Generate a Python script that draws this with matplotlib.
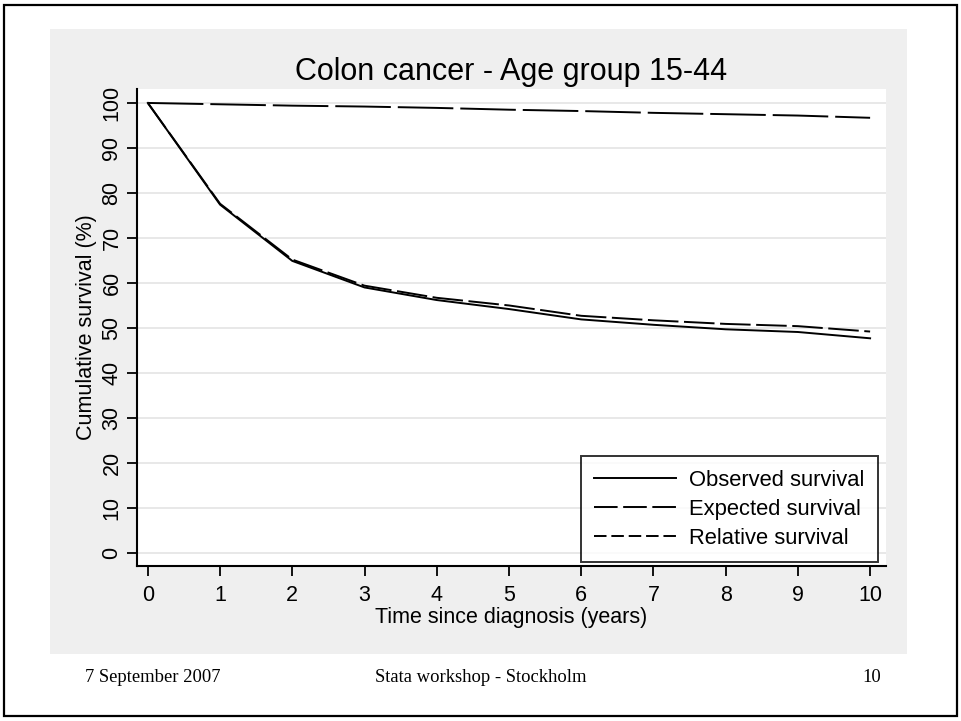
import matplotlib
matplotlib.use("Agg")
import matplotlib.pyplot as plt
from matplotlib.lines import Line2D
from matplotlib.patches import Rectangle

# survival curves (%)
years = [0, 1, 2, 3, 4, 5, 6, 7, 8, 9, 10]
observed = [100, 77.4, 64.9, 59.0, 56.2, 54.2, 51.9, 50.7, 49.7, 49.1, 47.7]
expected = [100, 99.7, 99.4, 99.2, 98.9, 98.5, 98.2, 97.8, 97.5, 97.2, 96.7]
relative = [100, 77.6, 65.2, 59.4, 56.7, 55.0, 52.7, 51.7, 50.9, 50.4, 49.2]

labels = ["Observed survival", "Expected survival", "Relative survival"]
yticks = list(range(0, 101, 10))
xticks = list(range(0, 11))

plt.rcParams['font.family'] = ['Liberation Sans', 'DejaVu Sans']
plt.rcParams['lines.scale_dashes'] = False

W, H = 961, 721
fig = plt.figure(figsize=(W / 100, H / 100), dpi=100)

# slide frame and grey graph region
fig.add_artist(Rectangle((4 / W, 5 / H), 953 / W, 711 / H, transform=fig.transFigure,
                         fill=False, ec='black', lw=1.6, zorder=-2))
fig.add_artist(Rectangle((50 / W, 1 - 654 / H), 857 / W, 625 / H, transform=fig.transFigure,
                         fc='#efefef', ec='none', zorder=-1))

ax = fig.add_axes([137 / W, 1 - 566 / H, 749 / W, 477 / H])
ax.set_facecolor('white')

lw = 1.4
ax.plot(years, observed, color='black', lw=lw, solid_joinstyle='round')
ax.plot(years, expected, color='black', lw=lw, dashes=(40, 5))
ax.plot(years, relative, color='black', lw=lw, dashes=(22, 4))

ax.set_xlim(-0.15, 10.22)
ax.set_ylim(-2.9, 103.1)
ax.set_yticks(yticks)
ax.set_xticks(xticks)
ax.set_yticklabels([str(v) for v in yticks], rotation=90, va='center')
ax.grid(axis='y', color='#e6e6e6', lw=1.3)
ax.set_axisbelow(True)

for s in ['top', 'right']:
    ax.spines[s].set_visible(False)
for s in ['left', 'bottom']:
    ax.spines[s].set_linewidth(1.5)
ax.tick_params(axis='both', direction='out', length=7.5, width=1.3, labelsize=15.5)
ax.tick_params(axis='x', pad=6)
ax.tick_params(axis='y', pad=3)

ax.set_ylabel("Cumulative survival (%)", fontsize=15.5, labelpad=3)
ax.set_xlabel("Time since diagnosis (years)", fontsize=15.5, labelpad=1)

fig.text(511 / W, 1 - 72 / H, "Colon cancer - Age group 15-44", fontsize=22,
         ha='center', va='center')

handles = [Line2D([], [], color='black', lw=lw),
           Line2D([], [], color='black', lw=lw, dashes=(17, 4)),
           Line2D([], [], color='black', lw=lw, dashes=(9, 3.5))]
leg = ax.legend(handles, labels, loc='lower right', bbox_to_anchor=(1.0 - 8 / 749, 4 / 477),
                fontsize=15.8, frameon=True, fancybox=False, handlelength=3.75,
                handletextpad=0.6, borderpad=0.6, labelspacing=0.37, borderaxespad=0)
leg.get_frame().set_edgecolor('black')
leg.get_frame().set_linewidth(1.4)

# slide footer
serif = ['Liberation Serif', 'DejaVu Serif']
fig.text(85 / W, 1 - 677 / H, "7 September 2007", family=serif, fontsize=13.4,
         ha='left', va='center')
fig.text(481 / W, 1 - 677 / H, "Stata workshop - Stockholm", family=serif, fontsize=13.4,
         ha='center', va='center')
fig.text(872 / W, 1 - 677 / H, "10", family=serif, fontsize=13.4, ha='center', va='center')

fig.savefig("out.png", dpi=100)
